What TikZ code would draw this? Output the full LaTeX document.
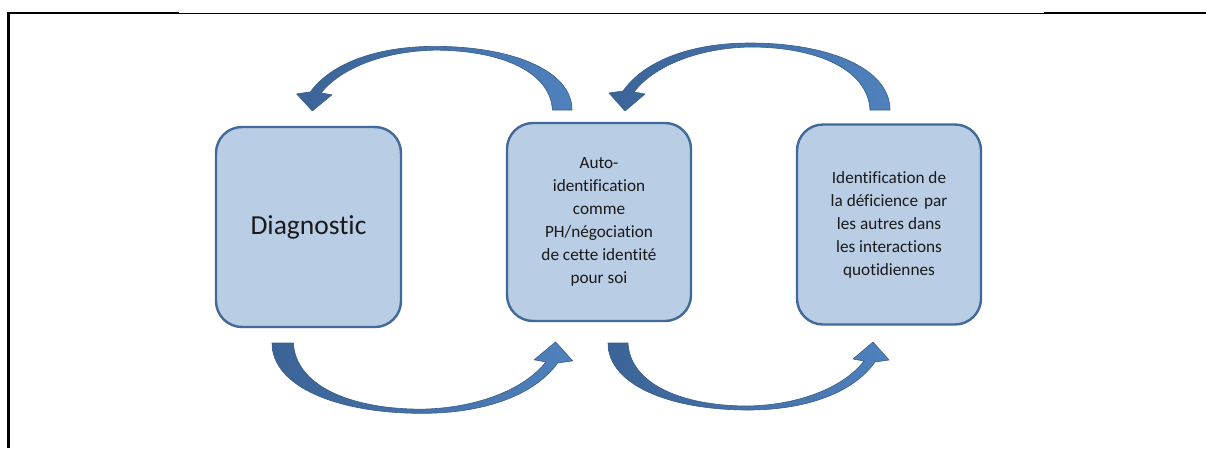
\documentclass[tikz,border=0pt]{standalone}
\usepackage{fontspec}
\setmainfont[Ligatures={NoCommon,NoRare},RawFeature={-liga;-dlig;-clig}]{Carlito}
\definecolor{boxfill}{HTML}{B9CDE5}
\definecolor{boxline}{HTML}{41699A}
\definecolor{arrdark}{HTML}{3B6396}
\definecolor{arrlight}{HTML}{4F81BD}
\definecolor{arredge}{HTML}{385D8A}
\definecolor{txt}{HTML}{1A1A1A}
\tikzset{
  stage/.style={draw=boxline, line width=2.4pt, fill=boxfill, rounded corners=26pt,
    align=center, text=txt, inner sep=2pt},
  smalltext/.style={font=\fontsize{17.2}{23}\selectfont},
  curvarrow/.pic={
    \path[left color=arrdark, right color=arrlight, draw=arredge, line width=0.6pt, line join=round]
      (0,0) .. controls (0,42) and (62,67) .. (140,67)
      .. controls (198,67) and (245,50) .. (267,19)
      -- (281,17) -- (265,-1) -- (245,16) -- (256,18)
      .. controls (236,44) and (192,62) .. (140,63)
      .. controls (72,63) and (22,40) .. (20,0) -- cycle;
  }
}
\begin{document}
\begin{tikzpicture}[x=1pt,y=-1pt]
\useasboundingbox (0,0) rectangle (1206,448);
% frame
\draw[line width=1pt] (8,13) -- (1206,13);
\draw[line width=2.4pt] (8,13) -- (179,13);
\draw[line width=2.2pt] (1044,13) -- (1206,13);
\draw[line width=2.7pt] (8.7,11.8) -- (8.7,448);
% boxes
\node[stage, minimum width=185pt, minimum height=200pt, font=\fontsize{27.5}{32}\selectfont] (diag) at (308.5,227) {Diagnostic};
\node[stage, smalltext, minimum width=184pt, minimum height=198pt] (auto) at (599,222)
  {Auto-\\identification\\comme\\PH/négociation\\de cette identité\\pour soi};
\node[stage, smalltext, minimum width=184pt, minimum height=200pt] (ident) at (889,224.5)
  {Identification de\\la déficience\hspace{0.12em} par\\les autres dans\\les interactions\\quotidiennes};
% curved block arrows
\pic[shift={(608,343)}] {curvarrow};
\pic[shift={(272,343)}, xscale=1.07, yscale=1.05] {curvarrow};
\pic[shift={(890,110)}, xscale=-1, yscale=-1] {curvarrow};
\pic[shift={(572,110)}, xscale=-0.98, yscale=-0.95] {curvarrow};
\end{tikzpicture}
\end{document}
